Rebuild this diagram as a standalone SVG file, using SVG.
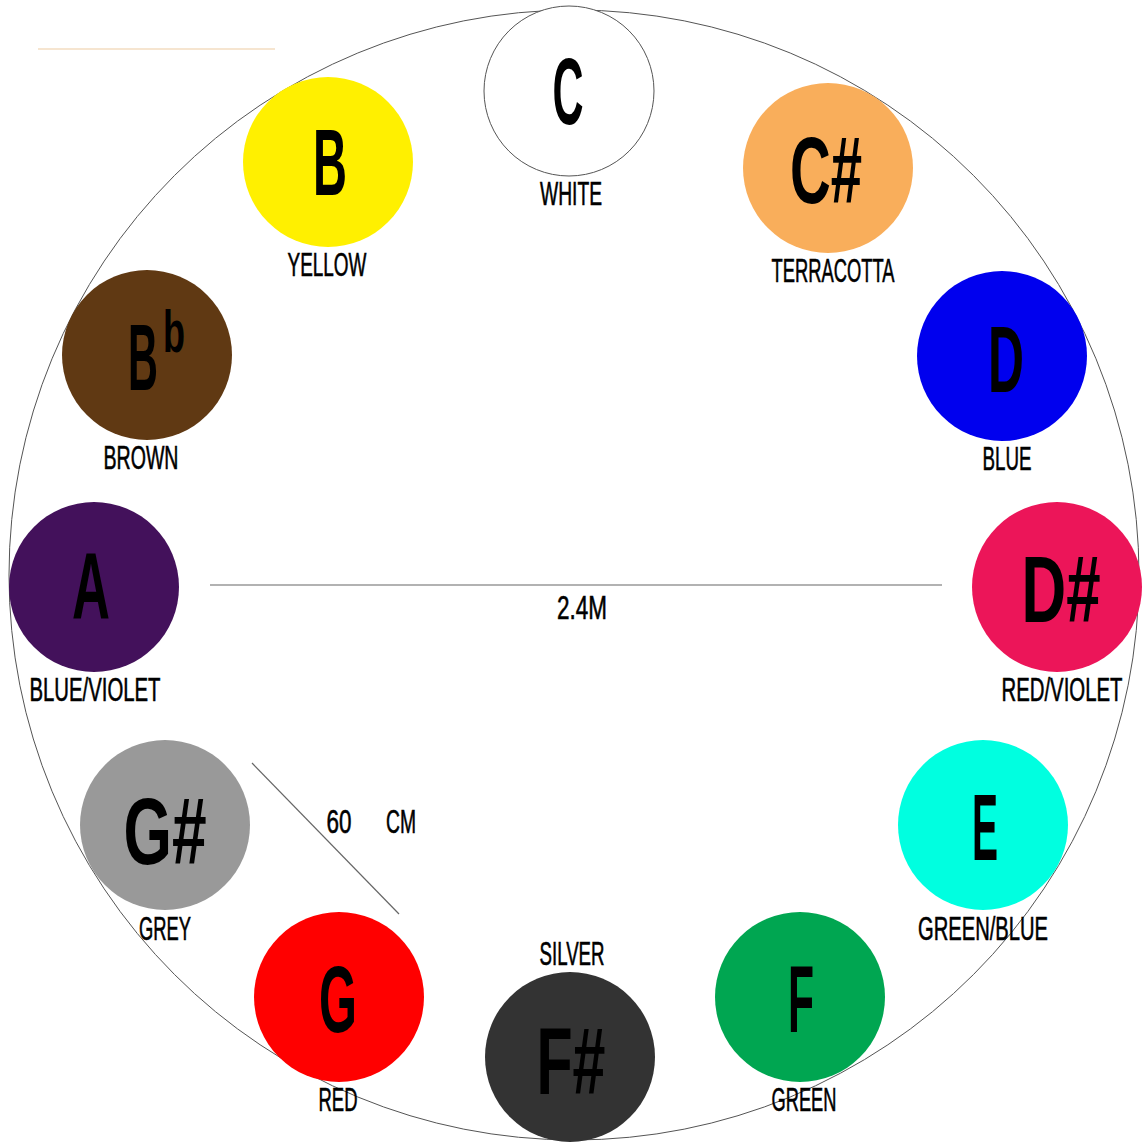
<svg xmlns="http://www.w3.org/2000/svg" width="1148" height="1142" viewBox="0 0 1148 1142">
  <style>
    .note { font-family: "Liberation Sans", Arial, sans-serif; font-weight: bold; fill: #000; text-anchor: middle; }
    .big { font-size: 94px; }
    .sup { font-size: 60px; }
    .lbl { font-family: "Liberation Sans", Arial, sans-serif; font-size: 33px; fill: #000; stroke: #000; stroke-width: 0.6; text-anchor: middle; }
    .rim { fill: none; stroke: #555; stroke-width: 1; }
    .guide { stroke: #666; stroke-width: 1.2; fill: none; }
  </style>
  <rect width="1148" height="1142" fill="#fff"/>
  <!-- faint mark in the top-left corner -->
  <line x1="38" y1="49" x2="275" y2="49" stroke="#f3dcc0" stroke-width="1.5"/>
  <!-- outer ring -->
  <circle class="rim" cx="574" cy="575" r="565"/>

  <!-- measurement guides -->
  <g id="connectors">
    <line class="guide" x1="210" y1="585" x2="942" y2="585"/>
    <line class="guide" x1="252" y1="763" x2="399" y2="914"/>
  </g>
  <text class="lbl" x="582" y="619" textLength="50" lengthAdjust="spacingAndGlyphs">2.4M</text>
  <text class="lbl" x="339" y="833" textLength="25" lengthAdjust="spacingAndGlyphs">60</text>
  <text class="lbl" x="401" y="833" textLength="30" lengthAdjust="spacingAndGlyphs">CM</text>

  <g id="note-C">
    <circle cx="569" cy="91" r="85" fill="#fff" stroke="#555" stroke-width="1"/>
    <text class="note big" x="568" y="124" textLength="31" lengthAdjust="spacingAndGlyphs">C</text>
    <text class="lbl" x="571" y="205" textLength="62" lengthAdjust="spacingAndGlyphs">WHITE</text>
  </g>
  <g id="note-Cs">
    <circle cx="828" cy="168" r="85" fill="#f9ae5b"/>
    <text class="note big" x="826" y="203" textLength="72" lengthAdjust="spacingAndGlyphs">C#</text>
    <text class="lbl" x="833" y="282" textLength="123" lengthAdjust="spacingAndGlyphs">TERRACOTTA</text>
  </g>
  <g id="note-D">
    <circle cx="1002" cy="356" r="85" fill="#0000ee"/>
    <text class="note big" x="1006" y="392" textLength="36" lengthAdjust="spacingAndGlyphs">D</text>
    <text class="lbl" x="1007" y="470" textLength="49" lengthAdjust="spacingAndGlyphs">BLUE</text>
  </g>
  <g id="note-Ds">
    <circle cx="1057" cy="587" r="85" fill="#ec1559"/>
    <text class="note big" x="1061" y="622" textLength="79" lengthAdjust="spacingAndGlyphs">D#</text>
    <text class="lbl" x="1062" y="701" textLength="121" lengthAdjust="spacingAndGlyphs">RED/VIOLET</text>
  </g>
  <g id="note-E">
    <circle cx="983" cy="825" r="85" fill="#00ffe0"/>
    <text class="note big" x="985" y="860" textLength="26" lengthAdjust="spacingAndGlyphs">E</text>
    <text class="lbl" x="983" y="940" textLength="130" lengthAdjust="spacingAndGlyphs">GREEN/BLUE</text>
  </g>
  <g id="note-F">
    <circle cx="800" cy="997" r="85" fill="#00a651"/>
    <text class="note big" x="801" y="1032" textLength="26" lengthAdjust="spacingAndGlyphs">F</text>
    <text class="lbl" x="804" y="1111" textLength="65" lengthAdjust="spacingAndGlyphs">GREEN</text>
  </g>
  <g id="note-Fs">
    <circle cx="570" cy="1057" r="85" fill="#333"/>
    <text class="note big" x="571" y="1094" textLength="69" lengthAdjust="spacingAndGlyphs">F#</text>
    <text class="lbl" x="572" y="965" textLength="65" lengthAdjust="spacingAndGlyphs">SILVER</text>
  </g>
  <g id="note-G">
    <circle cx="339" cy="997" r="85" fill="#ff0000"/>
    <text class="note big" x="338" y="1032" textLength="38" lengthAdjust="spacingAndGlyphs">G</text>
    <text class="lbl" x="338" y="1111" textLength="39" lengthAdjust="spacingAndGlyphs">RED</text>
  </g>
  <g id="note-Gs">
    <circle cx="165" cy="825" r="85" fill="#999"/>
    <text class="note big" x="165" y="864" textLength="83" lengthAdjust="spacingAndGlyphs">G#</text>
    <text class="lbl" x="165" y="940" textLength="52" lengthAdjust="spacingAndGlyphs">GREY</text>
  </g>
  <g id="note-A">
    <circle cx="94" cy="587" r="85" fill="#43115b"/>
    <text class="note big" x="91" y="619" textLength="38" lengthAdjust="spacingAndGlyphs">A</text>
    <text class="lbl" x="95" y="701" textLength="131" lengthAdjust="spacingAndGlyphs">BLUE/VIOLET</text>
  </g>
  <g id="note-Bb">
    <circle cx="147" cy="355" r="85" fill="#603913"/>
    <text class="note big" x="143" y="390" textLength="30" lengthAdjust="spacingAndGlyphs">B</text>
    <text class="note sup" x="174" y="352" textLength="22" lengthAdjust="spacingAndGlyphs">b</text>
    <text class="lbl" x="141" y="469" textLength="75" lengthAdjust="spacingAndGlyphs">BROWN</text>
  </g>
  <g id="note-B">
    <circle cx="328" cy="162" r="85" fill="#fff000"/>
    <text class="note big" x="330" y="195" textLength="34" lengthAdjust="spacingAndGlyphs">B</text>
    <text class="lbl" x="327" y="276" textLength="79" lengthAdjust="spacingAndGlyphs">YELLOW</text>
  </g>
</svg>
